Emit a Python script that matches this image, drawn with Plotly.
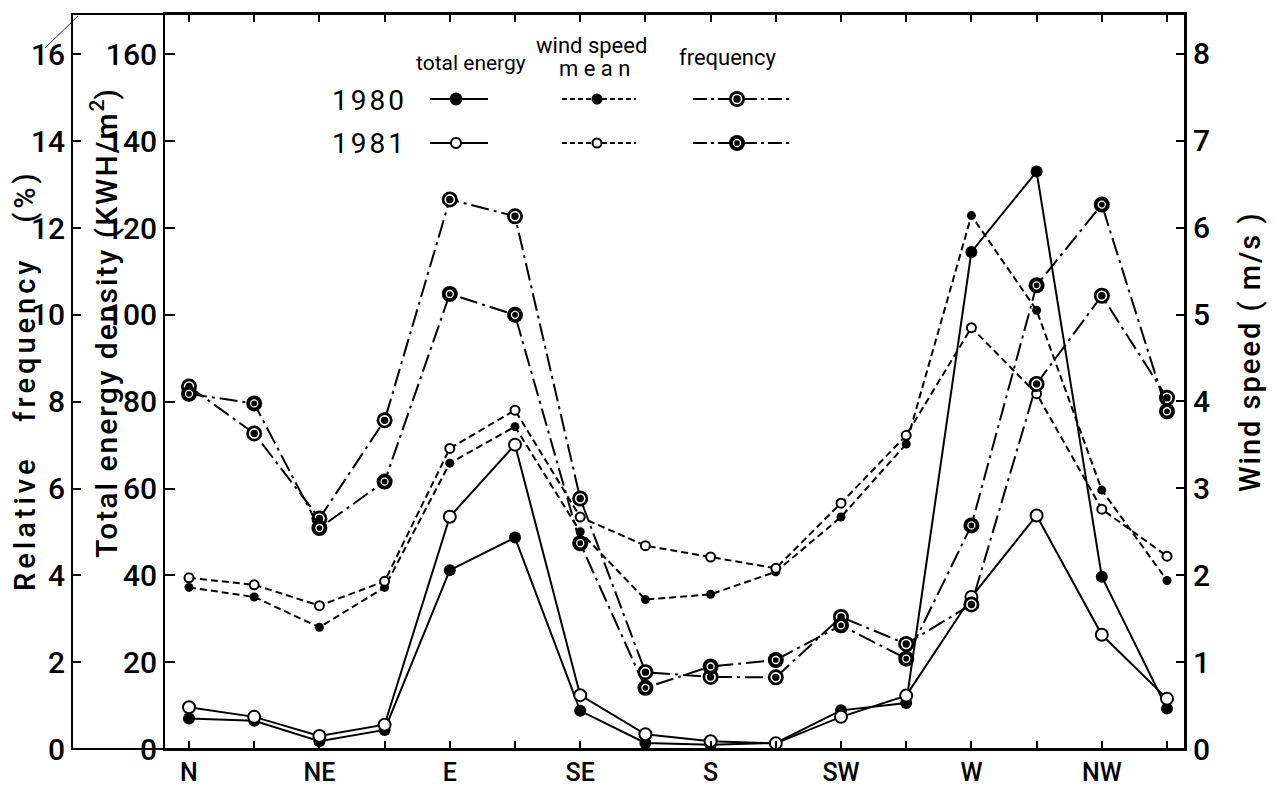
import plotly.graph_objects as go

# ---------------- data ----------------
directions = ["N", "NNE", "NE", "ENE", "E", "ESE", "SE", "SSE",
              "S", "SSW", "SW", "WSW", "W", "WNW", "NW", "NNW"]
tick_labels = [d if len(d) <= 2 else "" for d in directions]

energy_1980 = [7.0, 6.5, 1.8, 4.4, 41.2, 48.7, 8.8, 1.4, 1.0, 1.4, 8.9, 10.6, 114.5, 133.0, 39.7, 9.3]
energy_1981 = [9.6, 7.4, 3.0, 5.6, 53.5, 70.1, 12.4, 3.4, 1.8, 1.3, 7.4, 12.3, 35.0, 53.8, 26.3, 11.6]

wind_1980 = [1.86, 1.75, 1.40, 1.86, 3.29, 3.71, 2.50, 1.72, 1.78, 2.04, 2.67, 3.51, 6.14, 5.05, 2.98, 1.94]
wind_1981 = [1.97, 1.89, 1.65, 1.93, 3.46, 3.90, 2.67, 2.34, 2.21, 2.08, 2.83, 3.61, 4.85, 4.09, 2.76, 2.22]

freq_1980 = [8.35, 7.27, 5.31, 7.57, 12.66, 12.27, 5.77, 1.77, 1.66, 1.65, 3.04, 2.42, 3.33, 8.41, 10.44, 8.09]
freq_1981 = [8.18, 7.96, 5.09, 6.16, 10.48, 10.00, 4.74, 1.41, 1.90, 2.05, 2.85, 2.08, 5.15, 10.68, 12.54, 7.78]

energy_ticks = list(range(0, 161, 20))
wind_ticks = list(range(0, 9))
freq_ticks = list(range(0, 17, 2))

xpos = list(range(len(directions)))

# ---------------- geometry / styles ----------------
W, H = 1277, 788
ML, MR, MT, MB = 72, 92, 14, 39
PLOT_LEFT = 165
dom0 = (PLOT_LEFT - ML) / (W - ML - MR)

FONT = "Roboto"
BLACK = "black"
CLEAR = "rgba(0,0,0,0)"
SOLID = dict(color=BLACK, width=2)
DASH = dict(color=BLACK, width=2, dash="7px,4px")
DASHDOT = dict(color=BLACK, width=2, dash="18px,5px,3px,5px")


def spaced(s, px):
    return "<span style='letter-spacing:%dpx'>%s</span>" % (px, s)


fig = go.Figure()


def freq_traces(x, y, xa, ya, ring_size, ring_w, line=True):
    fig.add_trace(go.Scatter(
        x=x, y=y, xaxis=xa, yaxis=ya,
        mode="lines+markers" if line else "markers",
        line=DASHDOT,
        marker=dict(symbol="circle", size=16, color=BLACK),
        showlegend=False, hoverinfo="skip", cliponaxis=False))
    fig.add_trace(go.Scatter(
        x=x, y=y, xaxis=xa, yaxis=ya, mode="markers",
        marker=dict(symbol="circle-open", size=ring_size, color="white",
                    line=dict(color="white", width=ring_w)),
        showlegend=False, hoverinfo="skip", cliponaxis=False))


# total energy (left energy axis)
fig.add_trace(go.Scatter(x=xpos, y=energy_1980, xaxis="x", yaxis="y",
                         mode="lines+markers", line=SOLID,
                         marker=dict(symbol="circle", size=12, color=BLACK),
                         showlegend=False, hoverinfo="skip"))
fig.add_trace(go.Scatter(x=xpos, y=energy_1981, xaxis="x", yaxis="y",
                         mode="lines+markers", line=SOLID,
                         marker=dict(symbol="circle", size=12, color="white",
                                     line=dict(color=BLACK, width=2)),
                         showlegend=False, hoverinfo="skip"))

# wind speed (right axis)
fig.add_trace(go.Scatter(x=xpos, y=wind_1980, xaxis="x", yaxis="y2",
                         mode="lines+markers", line=DASH,
                         marker=dict(symbol="circle", size=9, color=BLACK),
                         showlegend=False, hoverinfo="skip"))
fig.add_trace(go.Scatter(x=xpos, y=wind_1981, xaxis="x", yaxis="y2",
                         mode="lines+markers", line=DASH,
                         marker=dict(symbol="circle", size=9, color="white",
                                     line=dict(color=BLACK, width=2)),
                         showlegend=False, hoverinfo="skip"))

# frequency (third y axis)
freq_traces(xpos, freq_1980, "x", "y3", 9, 1.6)
freq_traces(xpos, freq_1981, "x", "y3", 7, 1.3)

# ---------------- legend keys (overlay axis in page pixels) ----------------
key_rows = {"1980": 99, "1981": 143}
keys = [
    ("energy", 430, 488, 456),
    ("wind", 562, 636, 597),
    ("freq", 693, 790, 737),
]
for yr, yy in key_rows.items():
    filled = yr == "1980"
    for kind, x0, x1, xm in keys:
        if kind == "energy":
            fig.add_trace(go.Scatter(x=[x0, x1], y=[yy, yy], xaxis="x2", yaxis="y4",
                                     mode="lines", line=SOLID, showlegend=False, hoverinfo="skip"))
            fig.add_trace(go.Scatter(x=[xm], y=[yy], xaxis="x2", yaxis="y4", mode="markers",
                                     marker=dict(symbol="circle", size=11 if filled else 10,
                                                 color=BLACK if filled else "white",
                                                 line=dict(color=BLACK, width=2)),
                                     showlegend=False, hoverinfo="skip"))
        elif kind == "wind":
            fig.add_trace(go.Scatter(x=[x0, x1], y=[yy, yy], xaxis="x2", yaxis="y4",
                                     mode="lines", line=dict(color=BLACK, width=2, dash="5px,3px"),
                                     showlegend=False, hoverinfo="skip"))
            fig.add_trace(go.Scatter(x=[xm], y=[yy], xaxis="x2", yaxis="y4", mode="markers",
                                     marker=dict(symbol="circle", size=9,
                                                 color=BLACK if filled else "white",
                                                 line=dict(color=BLACK, width=2)),
                                     showlegend=False, hoverinfo="skip"))
        else:
            fig.add_trace(go.Scatter(x=[x0, x1], y=[yy, yy], xaxis="x2", yaxis="y4",
                                     mode="lines", line=dict(color=BLACK, width=2, dash="14px,4px,3px,4px"),
                                     showlegend=False, hoverinfo="skip"))
            freq_traces([xm], [yy], "x2", "y4", 9 if filled else 7, 1.6 if filled else 1.3, line=False)

# ---------------- annotations (page pixels -> paper fractions) ----------------
def px2paper(px, py):
    return (px - ML) / (W - ML - MR), (H - MB - py) / (H - MT - MB)


def ann(text, px, py, size, angle=0, weight=500):
    x, y = px2paper(px, py)
    return dict(text=text, x=x, y=y, xref="paper", yref="paper", showarrow=False,
                textangle=angle,
                font=dict(family=FONT, size=size, color=BLACK, weight=weight),
                xanchor="center", yanchor="middle")


annotations = [
    ann(spaced("Relative   frequency   (%)", 4), 25, 380, 29, -90),
    ann(spaced("Total energy density (KWH/m", 2) + "<sup>2</sup>)", 104, 324, 30, -90),
    ann(spaced("Wind speed ( m/s )", 2), 1250, 352, 29, -90),
    ann("total energy", 471, 63, 21, weight=400),
    ann("wind speed", 591, 45, 22, weight=400),
    ann("m e a n", 594, 69, 22, weight=400),
    ann("frequency", 728, 58, 22, weight=400),
    ann(spaced("1980", 3), 369, 100, 28, weight=400),
    ann(spaced("1981", 3), 369, 143, 28, weight=400),
]

axis_common = dict(showline=True, linecolor=BLACK, linewidth=2, ticks="inside",
                   tickcolor=BLACK, tickwidth=2, showgrid=False, zeroline=False,
                   automargin=False,
                   tickfont=dict(family=FONT, size=30, color=BLACK, weight=500))

# small diagonal stroke at the top-left corner of the frame
dg0 = px2paper(45, 48)
dg1 = px2paper(78, 16)

fig.update_layout(
    width=W, height=H,
    margin=dict(l=ML, r=MR, t=MT, b=MB, pad=0, autoexpand=False),
    paper_bgcolor="white", plot_bgcolor=CLEAR,
    showlegend=False,
    xaxis=dict(domain=[dom0, 1], range=[-0.368, 15.276],
               tickmode="array", tickvals=xpos, ticktext=tick_labels,
               showline=True, linecolor=BLACK, linewidth=2, mirror="ticks",
               ticks="inside", ticklen=8, tickwidth=2, tickcolor=BLACK,
               automargin=False,
               showgrid=False, zeroline=False,
               tickfont=dict(family=FONT, size=25, color=BLACK, weight=500)),
    yaxis=dict(domain=[0, 1], range=[0, 169.3], tickmode="array", tickvals=energy_ticks,
               ticklen=10, anchor="x", **axis_common),
    yaxis2=dict(range=[0, 8.46], tickmode="array", tickvals=wind_ticks, overlaying="y",
                side="right", anchor="x", ticklen=9, **axis_common),
    yaxis3=dict(range=[0, 16.93], tickmode="array", tickvals=freq_ticks, overlaying="y",
                side="left", anchor="free", position=0, ticklen=8, **axis_common),
    xaxis2=dict(domain=[0, 1], range=[ML, W - MR], anchor="y4", visible=False,
                fixedrange=True),
    yaxis4=dict(domain=[0, 1], range=[H - MB, MT], anchor="x2", visible=False,
                fixedrange=True),
    shapes=[
        dict(type="rect", xref="paper", yref="paper", x0=0, x1=1, y0=0, y1=1,
             line=dict(color=BLACK, width=2), layer="above"),
        dict(type="line", xref="paper", yref="paper", x0=dg0[0], y0=dg0[1],
             x1=dg1[0], y1=dg1[1], line=dict(color=BLACK, width=0.8)),
    ],
    annotations=annotations,
)

fig.write_html("out.html")
